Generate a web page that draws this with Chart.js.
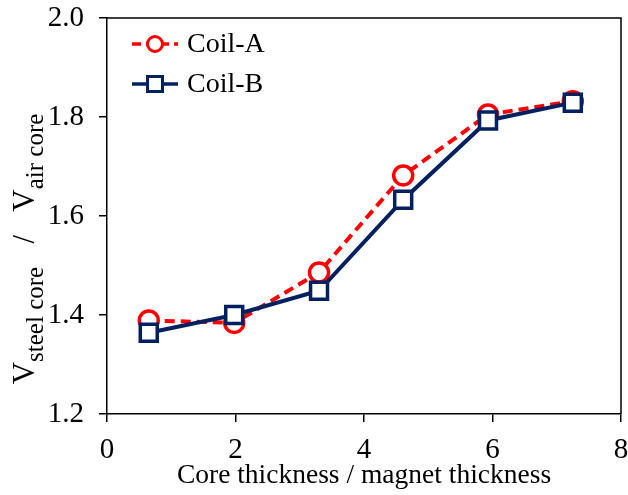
<!DOCTYPE html>
<html><head><meta charset="utf-8">
<script src="https://cdn.jsdelivr.net/npm/chart.js@4/dist/chart.umd.min.js"></script>
<style>html,body{margin:0;padding:0;background:#fff;}#wrap{width:628px;height:495px;}</style>
</head><body><div id="wrap"><canvas id="c" width="628" height="495"></canvas></div>
<script>
// ---- data ----
const ratioX = [0.65, 1.98, 3.30, 4.61, 5.93, 7.25];
const coilA = [1.389, 1.384, 1.486, 1.682, 1.805, 1.832];
const coilB = [1.364, 1.400, 1.449, 1.633, 1.793, 1.829];
const seriesNames = ['Coil-A', 'Coil-B'];
const xTicks = [0, 2, 4, 6, 8];
const yTicks = [1.2, 1.4, 1.6, 1.8, 2.0];
const xTitle = 'Core thickness / magnet thickness';
const yTitleParts = [['V', false], ['steel core', true], ['   /   ', false], ['V', false], ['air core', true]];

const FONT = '"Liberation Serif", "Times New Roman", serif';
const RED = '#FF0000', NAVY = '#002060';

const ptsA = ratioX.map((x, i) => ({x, y: coilA[i]}));
const ptsB = ratioX.map((x, i) => ({x, y: coilB[i]}));

const framePlugin = {
  id: 'frame',
  beforeDatasetsDraw(chart) {
    const {ctx, chartArea: a} = chart;
    ctx.save();
    ctx.strokeStyle = '#000'; ctx.lineWidth = 1.5;
    ctx.beginPath();
    ctx.moveTo(a.left, a.top); ctx.lineTo(a.right, a.top); ctx.lineTo(a.right, a.bottom);
    ctx.stroke();
    ctx.restore();
  }
};

const yTitlePlugin = {
  id: 'ytitle',
  afterDraw(chart) {
    const ctx = chart.ctx;
    const big = '31px ' + FONT, small = '25px ' + FONT;
    ctx.save();
    let total = 0;
    yTitleParts.forEach(([t, sub]) => { ctx.font = sub ? small : big; total += ctx.measureText(t).width; });
    ctx.translate(34, 249);
    ctx.rotate(-Math.PI / 2);
    ctx.fillStyle = '#000';
    ctx.textBaseline = 'alphabetic';
    let x = -total / 2;
    yTitleParts.forEach(([t, sub]) => {
      ctx.font = sub ? small : big;
      ctx.fillText(t, x, sub ? 9 : 0);
      x += ctx.measureText(t).width;
    });
    ctx.restore();
  }
};

const legendPlugin = {
  id: 'customLegend',
  afterDraw(chart) {
    const ctx = chart.ctx;
    const rows = [
      {y: 44, color: RED, dash: [9, 5], style: 'circle', label: chart.data.datasets[0].label},
      {y: 84, color: NAVY, dash: [], style: 'rect', label: chart.data.datasets[1].label}
    ];
    ctx.save();
    rows.forEach(r => {
      ctx.strokeStyle = r.color; ctx.lineWidth = 3.5; ctx.setLineDash(r.dash);
      ctx.beginPath(); ctx.moveTo(132, r.y); ctx.lineTo(178, r.y); ctx.stroke();
      ctx.setLineDash([]);
      ctx.fillStyle = '#fff'; ctx.lineWidth = 3;
      ctx.beginPath();
      if (r.style === 'circle') ctx.arc(155, r.y, 7.5, 0, Math.PI * 2);
      else ctx.rect(147.5, r.y - 7.5, 15, 15);
      ctx.fill(); ctx.stroke();
      ctx.fillStyle = '#000'; ctx.font = '28px ' + FONT; ctx.textBaseline = 'middle';
      ctx.fillText(r.label, 187, r.y + 1);
    });
    ctx.restore();
  }
};

new Chart(document.getElementById('c'), {
  type: 'line',
  data: {
    datasets: [
      {label: seriesNames[0], data: ptsA, order: 1, borderColor: RED, borderWidth: 4, borderDash: [10, 6],
       pointStyle: 'circle', pointRadius: 9.5, pointBorderWidth: 3.5, pointBackgroundColor: '#fff',
       pointBorderColor: RED, tension: 0, fill: false},
      {label: seriesNames[1], data: ptsB, order: 0, borderColor: NAVY, borderWidth: 4,
       pointStyle: 'rect', pointRadius: 12, pointBorderWidth: 3.5, pointBackgroundColor: '#fff',
       pointBorderColor: NAVY, tension: 0, fill: false}
    ]
  },
  options: {
    responsive: false, animation: false,
    layout: {autoPadding: false, padding: {top: 18, right: 7, left: 0, bottom: 0}},
    plugins: {legend: {display: false}, tooltip: {enabled: false}},
    scales: {
      x: {
        type: 'linear', min: xTicks[0], max: xTicks[xTicks.length - 1],
        afterBuildTicks: s => { s.ticks = xTicks.map(v => ({value: v})); },
        afterFit: s => { s.height = 81; s.paddingLeft = 0; s.paddingRight = 0; },
        ticks: {color: '#000', font: {family: FONT, size: 29}, padding: 11, maxRotation: 0,
                callback: v => String(v)},
        grid: {drawOnChartArea: false, drawTicks: true, tickLength: 8, color: '#000', lineWidth: 1.5},
        border: {color: '#000', width: 1.5},
        title: {display: true, text: xTitle, color: '#000', font: {family: FONT, size: 27.5}, padding: {top: 0, bottom: 3}}
      },
      y: {
        type: 'linear', min: yTicks[0], max: yTicks[yTicks.length - 1],
        afterBuildTicks: s => { s.ticks = yTicks.map(v => ({value: v})); },
        afterFit: s => { s.width = 107; s.paddingTop = 0; s.paddingBottom = 0; },
        ticks: {color: '#000', font: {family: FONT, size: 29}, padding: 15, callback: v => v.toFixed(1)},
        grid: {drawOnChartArea: false, drawTicks: true, tickLength: 8, color: '#000', lineWidth: 1.5},
        border: {color: '#000', width: 1.5}
      }
    }
  },
  plugins: [framePlugin, yTitlePlugin, legendPlugin]
});
</script></body></html>
